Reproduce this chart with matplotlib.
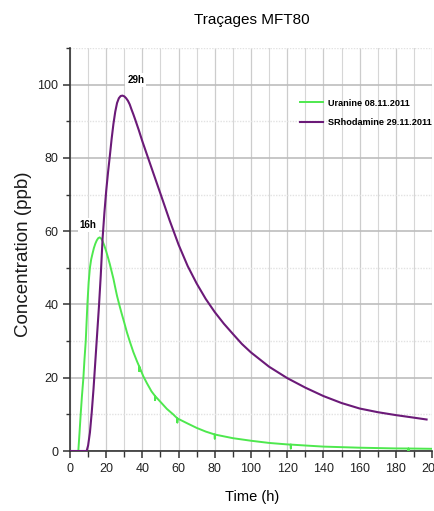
import matplotlib
matplotlib.use("Agg")
import matplotlib.pyplot as plt
from matplotlib.ticker import MultipleLocator

# ---- data ----
uranine_t = [0, 4.6, 5.2, 5.9, 6.6, 7.4, 8.0, 8.7, 9.6, 10.3, 11, 11.7, 12.5, 13.2, 14, 14.8,
             15.6, 16.4, 17.2, 18, 19, 20, 21, 22, 23, 24, 25, 26, 27.3, 28.5, 30, 31.5,
             33.1, 35, 37, 38.3, 38.3, 38.3, 39, 40.5, 42.5, 45, 47, 47, 47, 50, 53.5, 57,
             59.3, 59.3, 59.3, 65, 70, 75, 80, 80, 80, 90, 100, 110, 120, 122, 122, 122,
             130, 140, 160, 180, 187, 187, 187, 200]
uranine_c = [0, 0, 4.5, 10, 15, 20, 25, 30, 40, 46, 50, 52.3, 54, 55.4, 56.6, 57.5,
             58.1, 58.3, 58, 57.3, 56, 54.5, 52.8, 51, 49, 47, 44.6, 42.3, 39.8, 37.6, 35, 32.3,
             29.8, 27, 24.5, 23, 21.8, 23, 22.2, 20.4, 18.5, 16.3, 15, 13.9, 15, 13.4, 11.5, 10,
             8.9, 7.8, 8.9, 7.5, 6.3, 5.3, 4.5, 3.4, 4.5, 3.5, 2.8, 2.2, 1.8, 1.75, 0.7, 1.75,
             1.5, 1.2, 0.9, 0.7, 0.68, 0.0, 0.68, 0.6]

rhod_t = [0, 9.2, 10, 11, 12, 13, 14, 15, 16, 17, 18, 19, 20, 21, 22, 23, 24, 25, 26, 27, 28, 29,
          30, 31, 32, 33, 34, 35, 36, 38, 40, 43, 46, 50, 55, 60, 65, 70, 75, 80, 85, 90, 95, 100,
          110, 120, 130, 140, 150, 160, 170, 180, 190, 197]
rhod_c = [0, 0, 1.5, 5, 10.5, 17, 24.5, 32, 39.5, 48, 58, 65, 71, 76, 80.5, 85.2, 89.3, 92.6,
          95, 96.3, 96.9, 97, 96.8, 96.3, 95.6, 94.6, 93.2, 91.9, 90.5, 87.6, 84.5, 80.2, 75.9,
          70.2, 63, 56.3, 50.5, 45.7, 41.5, 37.9, 34.75, 31.95, 29.2, 26.9, 23.0, 19.9, 17.3,
          15.0, 13.1, 11.6, 10.6, 9.8, 9.1, 8.6]

labels = ["Uranine 08.11.2011", "SRhodamine 29.11.2011"]
peak_labels = ["16h", "29h"]
peak_label_pos = [(10, 61.6), (36.4, 101.3)]

title = "Traçages MFT80"
xlabel = "Time (h)"
ylabel = "Concentration (ppb)"

fam = ["Liberation Sans", "DejaVu Sans"]

W, H = 435, 511
fig = plt.figure(figsize=(W / 100, H / 100), dpi=100)
ax = fig.add_axes([70 / W, 1 - 451 / H, (432 - 70) / W, (451 - 48) / H])

green = "#4ee84e"
purple = "#6b1a78"

ax.plot(uranine_t, uranine_c, color=green, lw=1.4, label=labels[0], zorder=3)
ax.plot(rhod_t, rhod_c, color=purple, lw=1.5, label=labels[1], zorder=3)

ax.set_xlim(0, 200)
ax.set_ylim(0, 110)

ax.xaxis.set_major_locator(MultipleLocator(20))
ax.xaxis.set_minor_locator(MultipleLocator(10))
ax.yaxis.set_major_locator(MultipleLocator(20))
ax.yaxis.set_minor_locator(MultipleLocator(10))

ax.grid(which="major", axis="x", color="#cccccc", lw=0.9, zorder=0)
ax.grid(which="minor", axis="x", color="#d6d6d6", lw=0.8, zorder=0)
ax.grid(which="major", axis="y", color="#bdbdbd", lw=1.2, zorder=0)
ax.grid(which="minor", axis="y", color="#e2e2e2", lw=1.0, ls=(0, (1, 1)), zorder=0)

for s in ["top", "right"]:
    ax.spines[s].set_visible(False)
for s in ["left", "bottom"]:
    ax.spines[s].set_color("#333333")
    ax.spines[s].set_linewidth(1.2)

ax.tick_params(which="major", direction="out", length=5, width=1.1, color="#333333",
               labelsize=9, labelcolor="#222222")
ax.tick_params(which="minor", direction="out", length=4, width=1.0, color="#333333")
ax.tick_params(axis="y", which="minor", length=3)
for lab in ax.get_xticklabels() + ax.get_yticklabels():
    lab.set_family(fam)

for txt, (px, py) in zip(peak_labels, peak_label_pos):
    ax.text(px, py, txt, fontsize=7, fontweight="bold", family=fam, ha="center", va="center",
            bbox=dict(facecolor="white", edgecolor="none", pad=1.5), zorder=4)

leg = fig.legend(loc="upper left", bbox_to_anchor=(300 / W, 1 - 98.5 / H), frameon=False,
                 prop=dict(family=fam, weight="bold", size=6.6), handlelength=2.5,
                 handletextpad=0.55, labelspacing=1.15, borderpad=0, borderaxespad=0)

fig.text(252 / W, 1 - 20 / H, title, ha="center", va="center", fontsize=11, family=fam)
fig.text(252 / W, 1 - 497 / H, xlabel, ha="center", va="center", fontsize=10.5, family=fam)
fig.text(24 / W, 1 - 254 / H, ylabel, ha="center", va="center", fontsize=13.5,
         rotation=90, family=fam, color="#1a1a1a")

fig.savefig("out.png", dpi=100)
